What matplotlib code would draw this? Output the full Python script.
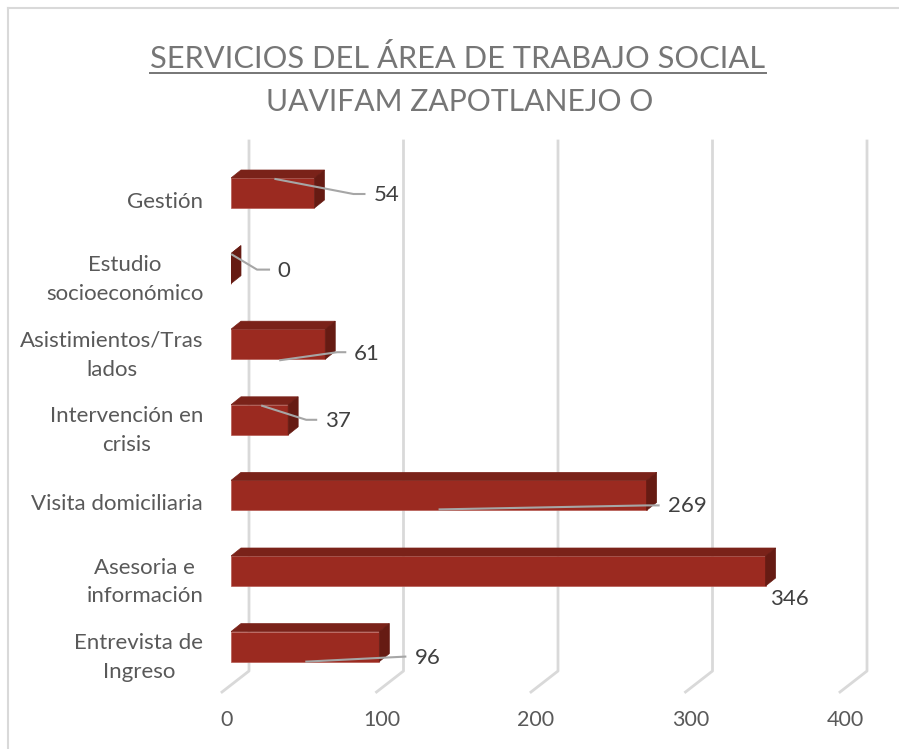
import matplotlib
matplotlib.use('Agg')
import matplotlib.pyplot as plt
from matplotlib.patches import Polygon
from matplotlib.lines import Line2D
from matplotlib.transforms import IdentityTransform, ScaledTranslation

# ---------------- data ----------------
categories = ['Gestión', 'Estudio\nsocioeconómico', 'Asistimientos/Tras\nlados',
              'Intervención en\ncrisis', 'Visita domiciliaria', 'Asesoria e\ninformación',
              'Entrevista de\nIngreso']
values = [54, 0, 61, 37, 269, 346, 96]
xticks = [0, 100, 200, 300, 400]
title_line1 = 'SERVICIOS DEL ÁREA DE TRABAJO SOCIAL'
title_line2 = 'UAVIFAM ZAPOTLANEJO O'

# label placement (pixel offsets, style only)
label_off = [(59, 2), (46, 2), (29, 10), (37, 1), (21, 11), (4, 28), (36, 11)]
leader = [((-98, -16), (-20, -1), (-9, -1)),
          ((-45, -16), (-20, -1), (-8, -1)),
          ((-74, 6), (-17, -2), (-9, -2)),
          ((-63, -15), (-19, -1), (-9, -1)),
          ((-228, 3), (-21, -1), (-9, -1)),
          None,
          ((-109, 4), (-10, -1), (-10, -1))]

W, H, DPI = 899, 749, 100
plt.rcParams['font.family'] = ['Lato', 'DejaVu Sans']
fig = plt.figure(figsize=(W / DPI, H / DPI), dpi=DPI)

FRONT = '#9b2a20'
TOP = '#7a2219'
SIDE = '#661b13'
GRID = '#d9d9d9'
TXT = '#595959'
LBL = '#404040'
TITLE = '#767676'

AX_L, AX_R, AX_T, AX_B = 231, 849, 141, 692
ax = fig.add_axes([AX_L / W, 1 - AX_B / H, (AX_R - AX_L) / W, (AX_B - AX_T) / H])
ROW0, ROWSTEP = 193, 75.6
ax.set_xlim(0, 400)
ax.set_ylim((AX_B - ROW0) / ROWSTEP, (AX_T - ROW0) / ROWSTEP)
for s in ax.spines.values():
    s.set_visible(False)
ax.patch.set_alpha(0)

pxu = 400 / (AX_R - AX_L)
DX, DY = 10 * pxu, 8 / ROWSTEP
BH = 30 / ROWSTEP

n = len(values)
ax.barh(range(n), values, height=BH, color=FRONT, edgecolor='#b65a52', linewidth=0.5, zorder=3)
for i, v in enumerate(values):
    t, b = i - BH / 2, i + BH / 2
    top = Polygon([(0, t), (v, t), (v + DX, t - DY), (DX, t - DY)], closed=True,
                  facecolor=TOP, edgecolor=TOP, linewidth=0.5, zorder=3)
    side = Polygon([(v, t), (v + DX, t - DY), (v + DX, b - DY), (v, b)], closed=True,
                   facecolor=SIDE, edgecolor=SIDE, linewidth=0.5, zorder=3)
    ax.add_patch(top)
    ax.add_patch(side)

ax.set_yticks(range(n))
ax.set_yticklabels(categories, color=TXT, fontsize=16, multialignment='center', linespacing=1.55)
ax.tick_params(axis='y', length=0, pad=20)
ax.set_xticks(xticks)
ax.set_xticklabels([str(x) for x in xticks], color=TXT, fontsize=15.5)
ax.tick_params(axis='x', length=0, pad=13)
for lab in ax.get_yticklabels():
    off = -7 if '\n' not in lab.get_text() else -4.5
    lab.set_transform(lab.get_transform() + ScaledTranslation(0, off / DPI, fig.dpi_scale_trans))
for lab in ax.get_xticklabels():
    lab.set_transform(lab.get_transform() + ScaledTranslation(-4 / DPI, 0, fig.dpi_scale_trans))

def to_px(x, y):
    d = ax.transData.transform((x, y))
    return d[0], d[1]

ident = IdentityTransform()
for v in xticks:
    xb, _ = to_px(v, 0)
    pts_x = [xb - 9, xb + 18, xb + 18]
    pts_y = [H - AX_B, H - (AX_B - 21), H - AX_T]
    ax.add_line(Line2D(pts_x, pts_y, transform=ident, color=GRID, lw=2, zorder=1, clip_on=False))

for i, v in enumerate(values):
    ex, ey = to_px(v, i)
    lx, ly = ex + label_off[i][0], ey - label_off[i][1]
    ax.text(lx, ly, str(v), transform=ident, ha='left', va='center', fontsize=16,
            color=LBL, zorder=5)
    if leader[i] is not None:
        (sx, sy), (kx, ky), (hx, hy) = leader[i]
        ax.add_line(Line2D([lx + sx, lx + kx, lx + hx], [ly - sy, ly - ky, ly - hy],
                           transform=ident, color='#a6a6a6', lw=1.5, zorder=4, clip_on=False))

# title
t1 = fig.text(458 / W, 1 - 58 / H, title_line1, ha='center', va='center',
              fontsize=22, color=TITLE)
t2 = fig.text(460 / W, 1 - 102 / H, title_line2, ha='center', va='center',
              fontsize=22, color=TITLE)
fig.canvas.draw()
r = fig.canvas.get_renderer()
w1 = t1.get_window_extent(r).width
t1.set_fontsize(22 * 610 / w1)
w2 = t2.get_window_extent(r).width
t2.set_fontsize(22 * 387 / w2)
fig.canvas.draw()
bb = t1.get_window_extent(r)
fig.add_artist(Line2D([bb.x0 / W, bb.x1 / W], [1 - 73 / H, 1 - 73 / H],
                      transform=fig.transFigure, color=TITLE, lw=1.4))

fig.add_artist(Line2D([8 / W, 8 / W], [0, 1 - 8 / H], transform=fig.transFigure, color=GRID, lw=1.5))
fig.add_artist(Line2D([8 / W, 1], [1 - 8 / H, 1 - 8 / H], transform=fig.transFigure, color=GRID, lw=1.5))

fig.savefig('out.png', dpi=DPI)
